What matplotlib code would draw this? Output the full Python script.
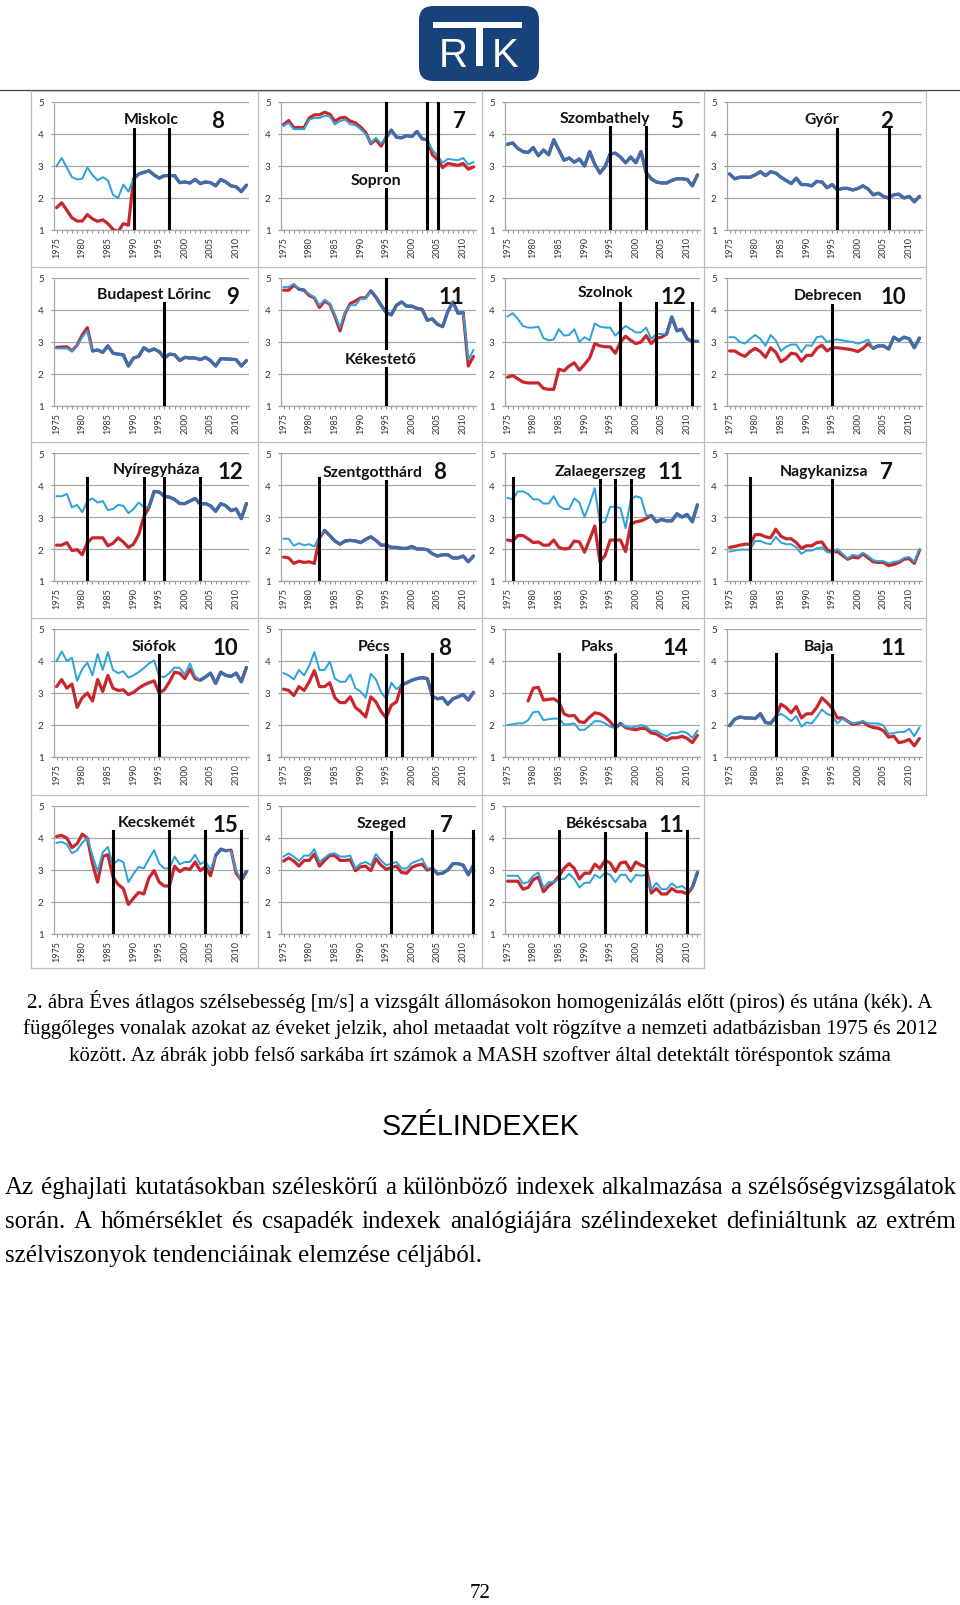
import numpy as np
import matplotlib
matplotlib.use('Agg')
import matplotlib.pyplot as plt
from matplotlib.patches import FancyBboxPatch, Rectangle

plt.rcParams['font.family'] = ['Lato', 'DejaVu Sans']

years = np.arange(1975, 2013)

stations = ['Miskolc', 'Sopron', 'Szombathely', 'Győr',
            'Budapest Lőrinc', 'Kékestető', 'Szolnok', 'Debrecen',
            'Nyíregyháza', 'Szentgotthárd', 'Zalaegerszeg', 'Nagykanizsa',
            'Siófok', 'Pécs', 'Paks', 'Baja',
            'Kecskemét', 'Szeged', 'Békéscsaba']
breakpoints = [8, 7, 5, 2, 9, 11, 12, 10, 12, 8, 11, 7, 10, 8, 14, 11, 15, 7, 11]
metadata_years = [[1990, 1997], [1995, 2003, 2005], [1995, 2002], [1996, 2006],
                  [1996], [1995], [1997, 2004, 2011], [1995],
                  [1981, 1992, 1996, 2003], [1982, 1995], [1976, 1993, 1996, 1999], [1979, 1995],
                  [1995], [1995, 1998, 2004], [1985, 1996], [1984, 1995],
                  [1986, 1997, 2004, 2011], [1996, 2004, 2012], [1985, 1994, 2002, 2010]]

# homogenized (blue) and raw (red) annual mean wind speed, 1975-2012
miskolc_blue = [3.00, 3.25, 2.95, 2.65, 2.58, 2.60, 2.95, 2.72, 2.55, 2.65,
                2.55, 2.10, 2.00, 2.42, 2.20, 2.60, 2.75, 2.80, 2.85, 2.72,
                2.62, 2.70, 2.70, 2.70, 2.48, 2.50, 2.47, 2.58, 2.45, 2.50,
                2.48, 2.38, 2.58, 2.50, 2.38, 2.35, 2.20, 2.40]
miskolc_red = [1.70, 1.85, 1.62, 1.38, 1.28, 1.28, 1.48, 1.35, 1.27, 1.32,
               1.20, 1.02, 0.95, 1.20, 1.15, 2.60, 2.75, 2.80, 2.85, 2.72,
               2.62, 2.70, 2.70, 2.70, 2.48, 2.50, 2.47, 2.58, 2.45, 2.50,
               2.48, 2.38, 2.58, 2.50, 2.38, 2.35, 2.20, 2.40]
sopron_blue = [4.25, 4.35, 4.15, 4.15, 4.15, 4.45, 4.50, 4.50, 4.57, 4.55,
               4.30, 4.40, 4.45, 4.30, 4.28, 4.15, 4.00, 3.72, 3.88, 3.70,
               3.90, 4.12, 3.90, 3.88, 3.95, 3.92, 4.08, 3.85, 3.82, 3.50,
               3.32, 3.10, 3.22, 3.20, 3.18, 3.25, 3.05, 3.12]
sopron_red = [4.30, 4.42, 4.20, 4.20, 4.20, 4.50, 4.60, 4.60, 4.68, 4.62,
              4.40, 4.50, 4.52, 4.40, 4.35, 4.22, 4.05, 3.70, 3.82, 3.62,
              3.90, 4.12, 3.90, 3.88, 3.95, 3.92, 4.08, 3.85, 3.82, 3.35,
              3.20, 2.95, 3.08, 3.05, 3.02, 3.08, 2.90, 2.97]
szombathely_blue = [3.68, 3.72, 3.55, 3.45, 3.42, 3.58, 3.32, 3.50, 3.35, 3.82,
                    3.50, 3.18, 3.25, 3.12, 3.22, 3.00, 3.45, 3.05, 2.78, 2.98,
                    3.38, 3.40, 3.28, 3.10, 3.28, 3.10, 3.45, 2.80, 2.60, 2.50,
                    2.47, 2.47, 2.55, 2.60, 2.60, 2.58, 2.38, 2.72]
szombathely_red = [3.68, 3.72, 3.55, 3.45, 3.42, 3.58, 3.32, 3.50, 3.35, 3.82,
                   3.50, 3.18, 3.25, 3.12, 3.22, 3.00, 3.45, 3.05, 2.78, 2.98,
                   3.38, 3.40, 3.28, 3.10, 3.28, 3.10, 3.45, 2.80, 2.60, 2.50,
                   2.47, 2.47, 2.55, 2.60, 2.60, 2.58, 2.38, 2.72]
gyor_blue = [2.75, 2.60, 2.65, 2.65, 2.65, 2.72, 2.82, 2.70, 2.82, 2.78,
             2.65, 2.55, 2.45, 2.62, 2.42, 2.42, 2.38, 2.52, 2.50, 2.32,
             2.42, 2.25, 2.30, 2.30, 2.25, 2.30, 2.38, 2.28, 2.10, 2.15,
             2.05, 2.00, 2.10, 2.12, 2.00, 2.05, 1.88, 2.05]
gyor_red = [2.75, 2.60, 2.65, 2.65, 2.65, 2.72, 2.82, 2.70, 2.82, 2.78,
            2.65, 2.55, 2.45, 2.62, 2.42, 2.42, 2.38, 2.52, 2.50, 2.32,
            2.42, 2.25, 2.30, 2.30, 2.25, 2.30, 2.38, 2.28, 2.10, 2.15,
            2.05, 2.00, 2.10, 2.12, 2.00, 2.05, 1.88, 2.05]
budapest_blue = [2.80, 2.80, 2.80, 2.72, 2.88, 3.15, 3.35, 2.72, 2.75, 2.68,
                 2.88, 2.65, 2.62, 2.60, 2.25, 2.50, 2.55, 2.82, 2.72, 2.78,
                 2.70, 2.50, 2.62, 2.60, 2.42, 2.52, 2.50, 2.50, 2.45, 2.52,
                 2.42, 2.25, 2.48, 2.47, 2.46, 2.45, 2.25, 2.42]
budapest_red = [2.83, 2.84, 2.85, 2.72, 2.90, 3.22, 3.45, 2.72, 2.75, 2.68,
                2.88, 2.65, 2.62, 2.60, 2.25, 2.50, 2.55, 2.82, 2.72, 2.78,
                2.70, 2.50, 2.62, 2.60, 2.42, 2.52, 2.50, 2.50, 2.45, 2.52,
                2.42, 2.25, 2.48, 2.47, 2.46, 2.45, 2.25, 2.42]
kekesteto_blue = [4.72, 4.72, 4.82, 4.65, 4.62, 4.50, 4.40, 4.15, 4.32, 4.20,
                  3.85, 3.45, 3.95, 4.15, 4.15, 4.35, 4.35, 4.60, 4.40, 4.15,
                  3.92, 3.85, 4.15, 4.25, 4.12, 4.12, 4.05, 4.02, 3.68, 3.72,
                  3.55, 3.48, 3.95, 4.25, 3.90, 3.92, 2.45, 2.75]
kekesteto_red = [4.62, 4.62, 4.78, 4.65, 4.62, 4.45, 4.38, 4.08, 4.28, 4.18,
                 3.80, 3.35, 3.90, 4.20, 4.28, 4.38, 4.38, 4.60, 4.40, 4.15,
                 3.92, 3.85, 4.15, 4.25, 4.12, 4.12, 4.05, 4.02, 3.68, 3.72,
                 3.55, 3.48, 3.95, 4.25, 3.90, 3.92, 2.25, 2.55]
szolnok_blue = [3.80, 3.90, 3.72, 3.50, 3.45, 3.45, 3.48, 3.12, 3.05, 3.08,
                3.40, 3.20, 3.22, 3.40, 3.00, 3.15, 3.05, 3.58, 3.48, 3.45,
                3.45, 3.20, 3.35, 3.50, 3.40, 3.30, 3.30, 3.45, 3.10, 3.25,
                3.25, 3.25, 3.78, 3.35, 3.40, 3.10, 3.02, 3.02]
szolnok_red = [1.90, 1.95, 1.85, 1.75, 1.72, 1.72, 1.72, 1.55, 1.52, 1.52,
               2.15, 2.10, 2.25, 2.35, 2.12, 2.30, 2.50, 2.95, 2.88, 2.85,
               2.85, 2.65, 3.00, 3.18, 3.05, 2.95, 3.00, 3.20, 2.95, 3.12,
               3.15, 3.25, 3.78, 3.35, 3.40, 3.10, 3.02, 3.02]
debrecen_blue = [3.15, 3.15, 3.00, 2.95, 3.10, 3.22, 3.10, 2.88, 3.22, 3.05,
                 2.72, 2.85, 2.92, 2.92, 2.68, 2.90, 2.88, 3.15, 3.18, 3.00,
                 3.05, 3.08, 3.05, 3.02, 3.00, 2.95, 3.00, 3.08, 2.80, 2.88,
                 2.88, 2.78, 3.15, 3.05, 3.15, 3.10, 2.82, 3.12]
debrecen_red = [2.72, 2.72, 2.62, 2.55, 2.70, 2.80, 2.70, 2.52, 2.82, 2.68,
                2.38, 2.48, 2.65, 2.62, 2.40, 2.58, 2.58, 2.80, 2.90, 2.72,
                2.82, 2.82, 2.80, 2.78, 2.75, 2.70, 2.80, 2.95, 2.80, 2.88,
                2.88, 2.78, 3.15, 3.05, 3.15, 3.10, 2.82, 3.12]
nyiregyhaza_blue = [3.65, 3.65, 3.72, 3.30, 3.38, 3.15, 3.50, 3.58, 3.45, 3.50,
                    3.22, 3.25, 3.38, 3.35, 3.12, 3.25, 3.45, 3.32, 3.30, 3.80,
                    3.78, 3.65, 3.62, 3.55, 3.42, 3.42, 3.50, 3.58, 3.40, 3.42,
                    3.35, 3.18, 3.42, 3.35, 3.20, 3.25, 2.95, 3.42]
nyiregyhaza_red = [2.12, 2.12, 2.20, 1.95, 1.98, 1.82, 2.20, 2.35, 2.35, 2.35,
                   2.10, 2.18, 2.35, 2.22, 2.05, 2.15, 2.45, 3.00, 3.30, 3.80,
                   3.78, 3.65, 3.62, 3.55, 3.42, 3.42, 3.50, 3.58, 3.40, 3.42,
                   3.35, 3.18, 3.42, 3.35, 3.20, 3.25, 2.95, 3.42]
szentgotthard_blue = [2.32, 2.32, 2.10, 2.18, 2.12, 2.15, 2.08, 2.40, 2.58, 2.42,
                      2.25, 2.15, 2.25, 2.27, 2.25, 2.20, 2.30, 2.38, 2.27, 2.12,
                      2.12, 2.05, 2.05, 2.02, 2.02, 2.08, 2.00, 2.00, 1.98, 1.85,
                      1.78, 1.82, 1.82, 1.72, 1.72, 1.78, 1.60, 1.78]
szentgotthard_red = [1.75, 1.72, 1.55, 1.62, 1.58, 1.60, 1.55, 2.35, 2.58, 2.42,
                     2.25, 2.15, 2.25, 2.27, 2.25, 2.20, 2.30, 2.38, 2.27, 2.12,
                     2.12, 2.05, 2.05, 2.02, 2.02, 2.08, 2.00, 2.00, 1.98, 1.85,
                     1.78, 1.82, 1.82, 1.72, 1.72, 1.78, 1.60, 1.78]
zalaegerszeg_blue = [3.60, 3.55, 3.80, 3.80, 3.72, 3.55, 3.55, 3.42, 3.42, 3.65,
                     3.35, 3.25, 3.25, 3.58, 3.45, 3.00, 3.42, 3.90, 2.80, 2.85,
                     3.32, 3.32, 3.28, 2.65, 3.55, 3.65, 3.60, 3.05, 3.05, 2.85,
                     2.92, 2.88, 2.88, 3.10, 3.00, 3.08, 2.85, 3.38]
zalaegerszeg_red = [2.28, 2.25, 2.42, 2.42, 2.32, 2.20, 2.22, 2.12, 2.12, 2.28,
                    2.05, 2.00, 2.02, 2.25, 2.22, 1.90, 2.30, 2.72, 1.60, 1.80,
                    2.28, 2.28, 2.28, 1.92, 2.78, 2.85, 2.88, 2.95, 3.05, 2.85,
                    2.92, 2.88, 2.88, 3.10, 3.00, 3.08, 2.85, 3.38]
nagykanizsa_blue = [1.92, 1.95, 1.98, 1.98, 1.98, 2.25, 2.25, 2.18, 2.15, 2.38,
                    2.20, 2.15, 2.15, 2.05, 1.85, 1.95, 1.95, 2.02, 2.05, 1.90,
                    1.88, 2.00, 1.85, 1.70, 1.82, 1.78, 1.88, 1.78, 1.65, 1.62,
                    1.62, 1.55, 1.60, 1.62, 1.72, 1.75, 1.60, 2.00]
nagykanizsa_red = [2.05, 2.08, 2.12, 2.15, 2.15, 2.45, 2.45, 2.38, 2.35, 2.62,
                   2.40, 2.32, 2.32, 2.20, 2.02, 2.10, 2.10, 2.20, 2.22, 1.98,
                   1.90, 1.92, 1.80, 1.68, 1.75, 1.72, 1.85, 1.72, 1.60, 1.58,
                   1.58, 1.48, 1.52, 1.58, 1.68, 1.70, 1.55, 1.95]
siofok_blue = [4.00, 4.30, 4.00, 4.10, 3.38, 3.75, 3.95, 3.55, 4.22, 3.72,
               4.28, 3.72, 3.62, 3.68, 3.48, 3.55, 3.65, 3.78, 3.92, 4.02,
               3.52, 3.50, 3.62, 3.80, 3.78, 3.58, 3.92, 3.52, 3.40, 3.50,
               3.62, 3.30, 3.65, 3.55, 3.52, 3.62, 3.35, 3.80]
siofok_red = [3.20, 3.42, 3.15, 3.28, 2.55, 2.85, 3.00, 2.75, 3.42, 3.05,
              3.55, 3.15, 3.08, 3.10, 2.95, 3.02, 3.15, 3.25, 3.32, 3.38,
              3.00, 3.10, 3.35, 3.65, 3.62, 3.45, 3.75, 3.45, 3.40, 3.50,
              3.62, 3.30, 3.65, 3.55, 3.52, 3.62, 3.35, 3.80]
pecs_blue = [3.62, 3.55, 3.42, 3.72, 3.55, 3.85, 4.28, 3.72, 3.72, 3.98,
             3.45, 3.35, 3.35, 3.58, 3.15, 3.05, 2.85, 3.60, 3.42, 3.02,
             2.82, 3.32, 3.12, 3.25, 3.32, 3.40, 3.45, 3.48, 3.45, 2.90,
             2.82, 2.85, 2.65, 2.82, 2.88, 2.95, 2.78, 3.02]
pecs_red = [3.12, 3.08, 2.92, 3.20, 3.08, 3.35, 3.70, 3.20, 3.20, 3.32,
            2.85, 2.70, 2.70, 2.88, 2.55, 2.42, 2.25, 2.88, 2.72, 2.42,
            2.22, 2.62, 2.72, 3.25, 3.32, 3.40, 3.45, 3.48, 3.45, 2.90,
            2.82, 2.85, 2.65, 2.82, 2.88, 2.95, 2.78, 3.02]
paks_blue = [2.00, 2.02, 2.05, 2.05, 2.15, 2.40, 2.42, 2.15, 2.18, 2.20,
             2.20, 2.02, 2.02, 2.05, 1.85, 1.85, 1.98, 2.12, 2.12, 2.05,
             1.95, 1.90, 2.05, 1.95, 1.92, 1.95, 2.00, 1.95, 1.82, 1.82,
             1.72, 1.65, 1.75, 1.75, 1.80, 1.75, 1.60, 1.82]
paks_red = [np.nan, np.nan, np.nan, np.nan, 2.75, 3.15, 3.18, 2.78, 2.80, 2.82,
            2.72, 2.35, 2.28, 2.30, 2.10, 2.08, 2.25, 2.38, 2.35, 2.25,
            2.10, 1.90, 2.05, 1.92, 1.88, 1.85, 1.90, 1.88, 1.75, 1.72,
            1.62, 1.52, 1.60, 1.60, 1.65, 1.58, 1.45, 1.68]
baja_blue = [1.98, 2.18, 2.25, 2.22, 2.22, 2.20, 2.35, 2.08, 2.05, 2.25,
             2.35, 2.25, 2.12, 2.28, 1.95, 2.08, 2.05, 2.25, 2.48, 2.35,
             2.28, 2.05, 2.20, 2.12, 2.05, 2.08, 2.12, 2.05, 2.05, 2.05,
             1.98, 1.72, 1.75, 1.78, 1.78, 1.88, 1.65, 1.92]
baja_red = [1.98, 2.18, 2.25, 2.22, 2.22, 2.20, 2.35, 2.08, 2.05, 2.25,
            2.65, 2.55, 2.38, 2.58, 2.22, 2.35, 2.35, 2.55, 2.85, 2.70,
            2.52, 2.22, 2.22, 2.12, 2.02, 2.05, 2.10, 1.98, 1.92, 1.90,
            1.82, 1.62, 1.65, 1.45, 1.48, 1.55, 1.35, 1.58]
kecskemet_blue = [3.85, 3.88, 3.80, 3.52, 3.62, 3.85, 4.00, 3.45, 2.95, 3.55,
                  3.72, 3.15, 3.32, 3.25, 2.62, 2.88, 3.10, 3.05, 3.35, 3.62,
                  3.20, 3.05, 3.05, 3.42, 3.18, 3.25, 3.25, 3.48, 3.18, 3.28,
                  3.00, 3.45, 3.65, 3.60, 3.58, 2.98, 2.68, 2.95]
kecskemet_red = [4.05, 4.08, 4.00, 3.70, 3.82, 4.12, 4.00, 3.20, 2.62, 3.42,
                 3.48, 2.78, 2.55, 2.42, 1.92, 2.12, 2.30, 2.25, 2.75, 2.98,
                 2.62, 2.50, 2.50, 3.12, 2.95, 3.05, 3.02, 3.25, 2.98, 3.10,
                 2.82, 3.45, 3.65, 3.60, 3.62, 2.90, 2.68, 2.95]
szeged_blue = [3.42, 3.52, 3.42, 3.28, 3.45, 3.45, 3.65, 3.25, 3.38, 3.50,
               3.52, 3.42, 3.42, 3.45, 3.05, 3.20, 3.25, 3.15, 3.50, 3.30,
               3.15, 3.20, 3.25, 3.05, 3.05, 3.22, 3.28, 3.35, 3.05, 3.05,
               2.88, 2.90, 3.00, 3.20, 3.20, 3.15, 2.85, 3.15]
szeged_red = [3.28, 3.38, 3.28, 3.12, 3.30, 3.30, 3.50, 3.12, 3.30, 3.45,
              3.45, 3.30, 3.30, 3.32, 2.98, 3.10, 3.12, 2.98, 3.35, 3.15,
              3.02, 3.08, 3.12, 2.92, 2.90, 3.08, 3.15, 3.18, 3.00, 3.05,
              2.88, 2.90, 3.00, 3.20, 3.20, 3.15, 2.85, 3.15]
bekescsaba_blue = [2.82, 2.82, 2.82, 2.58, 2.62, 2.82, 2.92, 2.45, 2.62, 2.62,
                   2.72, 2.72, 2.88, 2.72, 2.45, 2.60, 2.60, 2.85, 2.75, 2.92,
                   2.85, 2.62, 2.85, 2.85, 2.62, 2.85, 2.82, 2.85, 2.38, 2.60,
                   2.40, 2.40, 2.58, 2.45, 2.50, 2.38, 2.45, 2.92]
bekescsaba_red = [2.65, 2.65, 2.65, 2.40, 2.45, 2.70, 2.78, 2.32, 2.50, 2.62,
                  2.80, 3.05, 3.20, 3.05, 2.72, 2.90, 2.90, 3.18, 3.05, 3.30,
                  3.22, 2.95, 3.22, 3.25, 2.98, 3.25, 3.15, 3.10, 2.28, 2.42,
                  2.25, 2.25, 2.42, 2.32, 2.32, 2.25, 2.45, 2.92]

blue_series = [miskolc_blue, sopron_blue, szombathely_blue, gyor_blue,
               budapest_blue, kekesteto_blue, szolnok_blue, debrecen_blue,
               nyiregyhaza_blue, szentgotthard_blue, zalaegerszeg_blue, nagykanizsa_blue,
               siofok_blue, pecs_blue, paks_blue, baja_blue,
               kecskemet_blue, szeged_blue, bekescsaba_blue]
red_series = [miskolc_red, sopron_red, szombathely_red, gyor_red,
              budapest_red, kekesteto_red, szolnok_red, debrecen_red,
              nyiregyhaza_red, szentgotthard_red, zalaegerszeg_red, nagykanizsa_red,
              siofok_red, pecs_red, paks_red, baja_red,
              kecskemet_red, szeged_red, bekescsaba_red]

# label layout in axes fraction: (name x, name y, number x)
label_pos = [(0.50, 0.865, 0.838), (0.487, 0.39, 0.915), (0.513, 0.875, 0.877), (0.487, 0.865, 0.82),
             (0.513, 0.875, 0.915), (0.513, 0.37, 0.872), (0.513, 0.89, 0.863), (0.518, 0.865, 0.855),
             (0.527, 0.875, 0.906), (0.47, 0.855, 0.815), (0.49, 0.86, 0.85), (0.496, 0.86, 0.82),
             (0.513, 0.87, 0.88), (0.479, 0.87, 0.84), (0.474, 0.87, 0.872), (0.47, 0.87, 0.855),
             (0.527, 0.875, 0.88), (0.516, 0.87, 0.846), (0.52, 0.865, 0.855)]

RED = '#C8282D'
BLUE = '#2AA2DA'
BOTH = '#3C6FB0'
GRID = '#A6A6A6'
W, H = 960, 1606

fig = plt.figure(figsize=(W / 100, H / 100), dpi=100)
page = fig.add_axes([0, 0, 1, 1])
page.set_xlim(0, W)
page.set_ylim(H, 0)
page.axis('off')
renderer = fig.canvas.get_renderer()

# logo
page.add_patch(FancyBboxPatch((425, 13), 108, 63, boxstyle='round,pad=6,rounding_size=14',
                              fc='#17427A', ec='none'))
page.add_patch(Rectangle((433, 23), 89, 6, fc='white', ec='none'))
page.add_patch(Rectangle((476, 29), 7, 38, fc='white', ec='none'))
page.text(453, 67, 'R', color='white', fontsize=29, ha='center', va='baseline', family='Liberation Sans')
page.text(505, 67, 'K', color='white', fontsize=29, ha='center', va='baseline', family='Liberation Sans')
page.plot([0, W], [91, 91], color='#444444', lw=0.9)

# panel frame
col_x = [31, 258, 482, 704, 926]
row_y = [92, 268, 443, 619, 796, 969]
for x in col_x:
    page.plot([x, x], [row_y[0], row_y[4]], color='#BDBDBD', lw=0.9)
for x in col_x[:4]:
    page.plot([x, x], [row_y[4], row_y[5]], color='#BDBDBD', lw=0.9)
for y in row_y[:5]:
    page.plot([col_x[0], col_x[4]], [y, y], color='#BDBDBD', lw=0.9)
page.plot([col_x[0], col_x[3]], [row_y[5], row_y[5]], color='#BDBDBD', lw=0.9)

for k, name in enumerate(stations):
    r, c = divmod(k, 4)
    left = col_x[c] + 23
    top = row_y[r] + 11
    ax = fig.add_axes([left / W, 1 - (top + 128) / H, 195 / W, 128 / H])
    ax.set_xlim(1974.5, 2012.5)
    ax.set_ylim(1, 5)
    blue = np.array(blue_series[k])
    red = np.array(red_series[k])
    both = np.where(np.isclose(blue, red), blue, np.nan)
    ax.plot(years, red, color=RED, lw=2.3, zorder=3, solid_capstyle='round')
    ax.plot(years, blue, color=BLUE, lw=1.4, zorder=4)
    ax.plot(years, both, color=BOTH, lw=2.3, zorder=5, solid_capstyle='round')

    nx, ny, numx = label_pos[k]
    vtop = 5 if ny < 0.6 else 4.22
    for yr in metadata_years[k]:
        ax.plot([yr, yr], [1, vtop], color='black', lw=2.2, zorder=6)

    ax.text(nx, ny, name, transform=ax.transAxes, ha='center', va='center',
            fontsize=11.3, fontweight='bold', color='#111111', zorder=7,
            bbox=dict(fc='white', ec='none', pad=1.0))
    ax.text(numx, 0.855, str(breakpoints[k]), transform=ax.transAxes, ha='center', va='center',
            fontsize=16, fontweight='bold', color='#111111', zorder=7)

    ax.set_yticks([1, 2, 3, 4, 5])
    ax.set_xticks(np.arange(1975, 2011, 5))
    ax.set_xticks(years, minor=True)
    ax.set_xticklabels([str(y) for y in range(1975, 2011, 5)], rotation=90)
    ax.tick_params(axis='both', which='both', labelsize=6.5, labelcolor='#333333',
                   color='#8C8C8C', length=2.5, width=0.7)
    ax.tick_params(axis='x', pad=2)
    ax.tick_params(axis='y', pad=5, labelsize=7)
    ax.yaxis.grid(True, color=GRID, lw=0.9)
    ax.set_axisbelow(True)
    for s in ['top', 'right']:
        ax.spines[s].set_visible(False)
    ax.spines['bottom'].set_color(GRID)
    ax.spines['left'].set_color(GRID)
    ax.spines['bottom'].set_linewidth(0.9)
    ax.spines['left'].set_linewidth(0.9)
    ax.set_facecolor('none')


def fit(x, y, s, width, **kw):
    t = page.text(x, y, s, fontsize=10, **kw)
    w = t.get_window_extent(renderer).width
    t.set_fontsize(10 * width / w)
    return t


def justify(line, x0, x1, y, size, **kw):
    words = line.split()
    texts = [page.text(0, y, w, fontsize=size, ha='left', va='center', **kw) for w in words]
    widths = [t.get_window_extent(renderer).width for t in texts]
    gap = (x1 - x0 - sum(widths)) / (len(words) - 1)
    x = x0
    for t, w in zip(texts, widths):
        t.set_x(x)
        x += w + gap


cap = ['2. ábra Éves átlagos szélsebesség [m/s] a vizsgált állomásokon homogenizálás előtt (piros) és utána (kék). A',
       'függőleges vonalak azokat az éveket jelzik, ahol metaadat volt rögzítve a nemzeti adatbázisban 1975 és 2012',
       'között. Az ábrák jobb felső sarkába írt számok a MASH szoftver által detektált töréspontok száma']
t0 = fit(480, 1002, cap[0], 906, ha='center', va='center', family='Liberation Serif')
cap_size = t0.get_fontsize()
page.text(480, 1029, cap[1], fontsize=cap_size, ha='center', va='center', family='Liberation Serif')
page.text(480, 1056, cap[2], fontsize=cap_size, ha='center', va='center', family='Liberation Serif')

fit(481, 1127, 'SZÉLINDEXEK', 198, ha='center', va='center', family='Liberation Sans')

para = ['Az éghajlati kutatásokban széleskörű a különböző indexek alkalmazása a szélsőségvizsgálatok',
        'során. A hőmérséklet és csapadék indexek analógiájára szélindexeket definiáltunk az extrém',
        'szélviszonyok tendenciáinak elemzése céljából.']
t3 = fit(5, 1256, para[2], 477, ha='left', va='center', family='Liberation Serif')
psize = t3.get_fontsize()
justify(para[0], 5, 956, 1188, psize, family='Liberation Serif')
justify(para[1], 5, 956, 1222, psize, family='Liberation Serif')

page.text(480, 1594, '72', fontsize=15, ha='center', va='center', family='Liberation Serif')

fig.savefig('out.png', dpi=100, facecolor='white')
